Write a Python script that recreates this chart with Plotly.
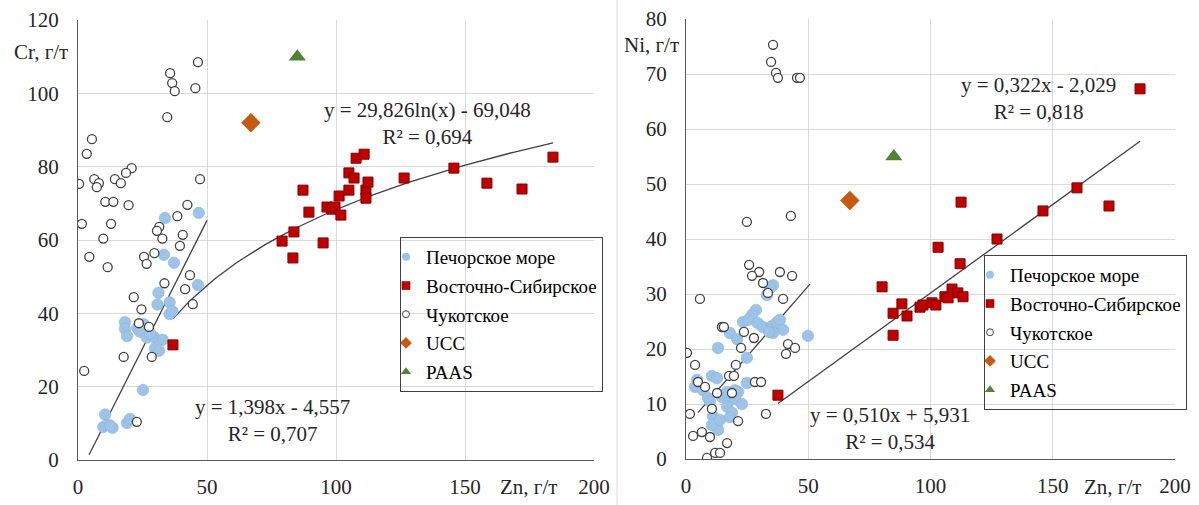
import numpy as np
import plotly.graph_objects as go

W, H = 1199, 505

# ---------------- data: left panel (Zn vs Cr) ----------------
pech_cr_zn = [33.7, 46.8, 33.3, 37.2, 46.5, 31.2, 30.8, 35.5, 35.5, 36.6, 18.2, 18.2, 19.0,
              25.5, 23.0, 24.0, 26.7, 29.6, 32.8, 29.8, 31.4, 25.2, 10.5, 9.8, 11.4, 13.4,
              12.5, 19.0, 20.2, 28.0]
pech_cr = [66.0, 67.4, 56.0, 53.8, 47.7, 45.6, 42.4, 43.0, 39.8, 40.6, 37.6, 35.8, 33.8,
           37.0, 36.0, 35.0, 33.4, 33.4, 32.8, 30.4, 29.8, 19.1, 12.4, 9.0, 9.6, 8.8,
           9.4, 10.1, 11.2, 34.5]

vs_cr_zn = [79.1, 83.7, 83.3, 87.2, 89.5, 95.0, 96.5, 98.4, 99.6, 101.9, 101.2, 105.0, 105.0,
            107.0, 107.8, 110.9, 111.6, 112.4, 111.6, 126.4, 145.7, 158.5, 172.1, 184.1, 36.8]
vs_cr = [59.7, 62.2, 55.1, 73.6, 67.6, 59.2, 69.0, 68.4, 69.0, 66.8, 72.0, 73.6, 78.3,
         76.9, 82.3, 83.4, 73.6, 75.8, 71.4, 76.9, 79.6, 75.5, 73.9, 82.6, 31.4]

ch_cr_zn = [46.5, 35.7, 36.5, 37.5, 45.5, 34.6, 5.4, 3.4, 20.8, 18.6, 0.4, 6.3, 8.1, 7.3,
            14.3, 16.6, 47.3, 10.6, 13.7, 19.6, 42.4, 1.5, 12.8, 38.5, 9.8, 31.5, 30.6,
            32.7, 40.6, 39.5, 4.4, 11.5, 25.6, 26.6, 29.6, 43.4, 33.5, 41.5, 44.5, 21.6,
            24.6, 23.6, 27.5, 17.7, 28.6, 2.4, 22.8]
ch_cr = [108.5, 105.5, 102.8, 100.6, 101.4, 93.5, 87.5, 83.5, 79.6, 78.3, 75.3, 76.6, 75.5,
         74.4, 76.6, 75.5, 76.6, 70.4, 70.4, 69.5, 69.6, 64.4, 64.4, 66.5, 60.4, 63.6,
         62.5, 60.4, 61.4, 58.4, 55.4, 52.6, 55.4, 53.5, 56.4, 50.4, 48.2, 46.6, 42.5,
         44.4, 41.1, 37.3, 36.3, 28.1, 28.1, 24.3, 10.4]

# ---------------- data: right panel (Zn vs Ni) ----------------
pech_ni_zn = [35.6, 34.4, 33.1, 28.6, 27.0, 23.3, 25.4, 29.4, 31.5, 35.2, 37.2, 38.4, 39.7,
              35.6, 34.0, 49.9, 18.0, 20.9, 13.1, 24.9, 4.5, 10.6, 12.7, 3.7, 7.0, 9.0,
              14.7, 24.9, 21.3, 18.0, 20.0, 22.9, 16.8, 18.8, 11.0, 12.7, 13.1, 18.0, 10.6,
              13.9, 16.8, 9.8, 20.0]
pech_ni = [31.6, 31.1, 29.8, 27.1, 26.2, 24.9, 25.3, 24.7, 24.0, 24.2, 24.9, 25.3, 23.5,
           22.9, 23.1, 22.4, 22.9, 21.8, 20.2, 18.4, 14.4, 15.1, 14.7, 13.1, 12.5, 11.1,
           11.3, 13.8, 12.2, 10.7, 10.9, 10.0, 9.5, 8.4, 7.8, 6.5, 5.3, 7.6, 6.2,
           7.1, 12.2, 10.4, 12.5]

vs_ni_zn = [185.7, 159.9, 146.0, 173.0, 112.5, 127.2, 103.1, 112.1, 80.2, 88.3, 84.7, 90.4,
            84.7, 95.7, 96.9, 100.6, 102.2, 105.9, 107.2, 108.8, 111.2, 113.3, 37.6]
vs_ni = [67.3, 49.3, 45.1, 46.0, 46.7, 40.0, 38.5, 35.5, 31.3, 28.2, 26.5, 26.0,
         22.5, 27.6, 28.0, 28.4, 28.0, 29.5, 29.3, 30.9, 30.2, 29.5, 11.6]

ch_ni_zn = [35.6, 34.8, 36.8, 37.6, 45.4, 46.6, 24.9, 42.9, 25.8, 29.9, 27.0, 38.4, 43.4,
            31.5, 33.5, 39.7, 5.7, 14.7, 15.5, 23.7, 27.8, 22.5, 41.7, 44.6, 40.9, 0.4,
            3.7, 20.4, 17.6, 19.6, 4.9, 7.8, 28.2, 30.7, 12.7, 18.8, 10.6, 1.6, 32.7,
            21.3, 6.5, 2.9, 9.8, 16.8, 11.9, 13.9, 8.6]
ch_ni = [75.3, 72.2, 70.2, 69.3, 69.3, 69.3, 43.1, 44.2, 35.3, 34.0, 33.3, 34.0, 33.3,
         32.0, 30.2, 29.1, 29.1, 24.0, 24.0, 23.1, 22.0, 20.2, 20.9, 20.2, 19.1, 19.3,
         17.1, 17.1, 15.1, 15.1, 14.0, 13.1, 14.0, 14.0, 12.0, 12.0, 9.1, 8.2, 8.2,
         6.9, 4.9, 4.2, 4.0, 2.9, 1.1, 1.1, 0.2]

ucc_zn, ucc_cr, ucc_ni = [67], [92], [47]
paas_zn, paas_cr, paas_ni = [85], [110], [55]

names = ["Печорское море", "Восточно-Сибирское", "Чукотское", "UCC", "PAAS"]

# trendlines (coefficients as printed, x-extent as drawn)
lin_cr = (1.398, -4.557, 4.3, 50.0)
log_cr = (29.826, -69.048, 36.8, 184.1)
lin_ni_blue = (0.510, 5.931, 4.9, 50.7)
lin_ni_red = (0.322, -2.029, 37.6, 185.7)

eq_texts_left = ["y = 29,826ln(x) - 69,048<br>R² = 0,694", "y = 1,398x - 4,557<br>R² = 0,707"]
eq_texts_right = ["y = 0,322x - 2,029<br>R² = 0,818", "y = 0,510x + 5,931<br>R² = 0,534"]

# ---------------- styles ----------------
FONT = "Liberation Serif, Times New Roman, Times, serif"
TXT = "#262626"
styles = [
    dict(symbol="circle", size=11.5, color="#9DC3E6", line=dict(width=0.6, color="#8DB4DC")),
    dict(symbol="square", size=10, color="#C00000", line=dict(width=1, color="#800000")),
    dict(symbol="circle", size=9, color="white", line=dict(width=1.3, color="#404040")),
    dict(symbol="diamond", size=15, color="#C55A11", line=dict(width=0)),
    dict(symbol="triangle-up", size=15, color="#548235", line=dict(width=0)),
]
leg_styles = [
    dict(symbol="circle", size=8, color="#9DC3E6", line=dict(width=0)),
    dict(symbol="square", size=8, color="#C00000", line=dict(width=0.6, color="#800000")),
    dict(symbol="circle", size=7, color="white", line=dict(width=1, color="#404040")),
    dict(symbol="diamond", size=9, color="#C55A11", line=dict(width=0)),
    dict(symbol="triangle-up", size=9, color="#548235", line=dict(width=0)),
]

fig = go.Figure()

def add_panel(series, xa, ya, legend_name):
    for i, (xs, ys) in enumerate(series):
        fig.add_trace(go.Scatter(x=xs, y=ys, mode="markers", marker=styles[i],
                                 xaxis=xa, yaxis=ya, showlegend=False, hoverinfo="x+y"))
    for i, nm in enumerate(names):
        fig.add_trace(go.Scatter(x=[None], y=[None], mode="markers", marker=leg_styles[i],
                                 name=nm, xaxis=xa, yaxis=ya, showlegend=True,
                                 legend=legend_name, legendgroup=legend_name + str(i)))

def add_line(xs, ys, xa, ya):
    fig.add_trace(go.Scatter(x=xs, y=ys, mode="lines", line=dict(color="#404040", width=1.3),
                             xaxis=xa, yaxis=ya, showlegend=False, hoverinfo="skip"))

# trendlines first so markers sit on top
a, b, x0, x1 = lin_cr
add_line([x0, x1], [a * x0 + b, a * x1 + b], "x", "y")
a, b, x0, x1 = log_cr
xx = np.linspace(x0, x1, 80)
add_line(xx, a * np.log(xx) + b, "x", "y")
a, b, x0, x1 = lin_ni_blue
add_line([x0, x1], [a * x0 + b, a * x1 + b], "x2", "y2")
a, b, x0, x1 = lin_ni_red
add_line([x0, x1], [a * x0 + b, a * x1 + b], "x2", "y2")

add_panel([(pech_cr_zn, pech_cr), (vs_cr_zn, vs_cr), (ch_cr_zn, ch_cr),
           (ucc_zn, ucc_cr), (paas_zn, paas_cr)], "x", "y", "legend")
add_panel([(pech_ni_zn, pech_ni), (vs_ni_zn, vs_ni), (ch_ni_zn, ch_ni),
           (ucc_zn, ucc_ni), (paas_zn, paas_ni)], "x2", "y2", "legend2")

def px(x):
    return x / W

def py(y):
    return 1 - y / H

axis_common = dict(showgrid=True, gridcolor="#D9D9D9", gridwidth=1, zeroline=False,
                   showline=True, linecolor="#595959", linewidth=1.3, ticks="",
                   automargin=False,
                   tickfont=dict(family=FONT, size=21, color=TXT))

leg_common = dict(bgcolor="rgba(0,0,0,0)", bordercolor="#404040", borderwidth=1,
                  font=dict(family=FONT, size=19, color="black"), xanchor="left",
                  yanchor="top", tracegroupgap=1, indentation=-15, itemclick=False)

fig.update_layout(
    width=W, height=H, margin=dict(l=0, r=0, t=0, b=0, pad=0, autoexpand=False),
    font=dict(family=FONT, size=18, color=TXT),
    paper_bgcolor="white", plot_bgcolor="white",
    xaxis=dict(domain=[px(78), px(594)], range=[0, 200], dtick=50, anchor="y",
               ticklabelstandoff=8, **axis_common),
    yaxis=dict(domain=[py(460), py(20)], range=[0, 120], dtick=20, anchor="x",
               ticklabelstandoff=14, **axis_common),
    xaxis2=dict(domain=[px(686), px(1175)], range=[0, 200], dtick=50, anchor="y2",
                ticklabelstandoff=8, **axis_common),
    yaxis2=dict(domain=[py(459), py(19)], range=[0, 80], dtick=10, anchor="x2",
                ticklabelstandoff=14, **axis_common),
    legend=dict(x=px(400), y=py(237), **leg_common),
    legend2=dict(x=px(984), y=py(255), **leg_common),
    showlegend=True,
)

ann_font = dict(family=FONT, size=21, color=TXT)
annotations = [
    dict(text="Cr, г/т", x=px(12), y=py(52), xanchor="left", yanchor="middle"),
    dict(text="Ni, г/т", x=px(622), y=py(45), xanchor="left", yanchor="middle"),
    dict(text="Zn, г/т", x=px(528), y=py(487), xanchor="center", yanchor="middle"),
    dict(text="Zn, г/т", x=px(1112), y=py(487), xanchor="center", yanchor="middle"),
    dict(text=eq_texts_left[0], x=px(427), y=py(123), xanchor="center", yanchor="middle"),
    dict(text=eq_texts_left[1], x=px(272), y=py(420), xanchor="center", yanchor="middle"),
    dict(text=eq_texts_right[0], x=px(1038), y=py(99), xanchor="center", yanchor="middle"),
    dict(text=eq_texts_right[1], x=px(890), y=py(428), xanchor="center", yanchor="middle"),
]
for a_ in annotations:
    a_.update(xref="paper", yref="paper", showarrow=False, font=ann_font)
fig.update_layout(annotations=annotations)

fig.add_shape(type="line", xref="paper", yref="paper", x0=px(617), x1=px(617), y0=0, y1=1,
              line=dict(color="#D9D9D9", width=1))

fig.write_html("out.html")
